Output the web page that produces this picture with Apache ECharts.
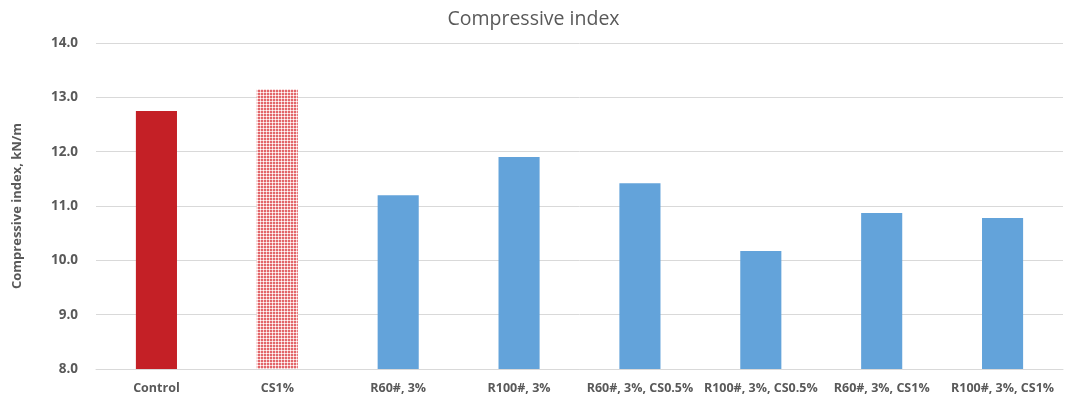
<!DOCTYPE html>
<html>
<head>
<meta charset="utf-8">
<script src="https://cdn.jsdelivr.net/npm/echarts@6/dist/echarts.min.js"></script>
<style>
  html, body { margin: 0; padding: 0; background: #fff; }
  #chart { width: 1067px; height: 396px; }
</style>
</head>
<body>
<div id="chart"></div>
<script>
// Compressive index per mix
const categories = ['Control', 'CS1%', 'R60#, 3%', 'R100#, 3%', 'R60#, 3%, CS0.5%', 'R100#, 3%, CS0.5%', 'R60#, 3%, CS1%', 'R100#, 3%, CS1%'];
const values = [12.75, 13.15, 11.2, 11.9, 11.42, 10.17, 10.87, 10.78];
const yTicks = { min: 8, max: 14, interval: 1 };

// Small checkered fill used for the CS1% bar: red cells on a light grid
function checkerPattern() {
  const c = document.createElement('canvas');
  c.width = 3; c.height = 3;
  const g = c.getContext('2d');
  g.fillStyle = '#f7cfd0';
  g.fillRect(0, 0, 3, 3);
  g.fillStyle = '#e2666a';
  g.fillRect(0, 0, 2, 2);
  g.fillStyle = '#ffffff';
  g.fillRect(2, 2, 1, 1);
  return c;
}

const barColors = [
  '#c42026',
  { image: checkerPattern(), repeat: 'repeat' },
  '#63a3da', '#63a3da', '#63a3da', '#63a3da', '#63a3da', '#63a3da'
];

const chart = echarts.init(document.getElementById('chart'));
chart.setOption({
  animation: false,
  title: {
    text: 'Compressive index',
    left: 'center',
    top: 4,
    textStyle: { fontFamily: 'Open Sans', fontSize: 19.5, fontWeight: 'normal', color: '#595959' }
  },
  grid: { left: 96, right: 4, top: 43, bottom: 27 },
  xAxis: {
    type: 'category',
    data: categories,
    axisLine: { lineStyle: { color: '#d9d9d9' } },
    axisTick: { show: false },
    axisLabel: { fontFamily: 'Open Sans', fontSize: 12.5, fontWeight: 'bold', color: '#595959', margin: 13, interval: 0 }
  },
  yAxis: {
    type: 'value',
    min: yTicks.min,
    max: yTicks.max,
    interval: yTicks.interval,
    name: 'Compressive index, kN/m',
    nameLocation: 'middle',
    nameGap: 72,
    nameTextStyle: { fontFamily: 'Open Sans', fontSize: 13, fontWeight: 'bold', color: '#595959' },
    axisLine: { show: false },
    axisTick: { show: false },
    splitLine: { lineStyle: { color: '#d9d9d9' } },
    axisLabel: {
      fontFamily: 'Open Sans', fontSize: 13.5, fontWeight: 'bold', color: '#595959', margin: 18,
      formatter: v => v.toFixed(1)
    }
  },
  series: [{
    type: 'bar',
    barWidth: '34%',
    data: values.map((v, i) => ({ value: v, itemStyle: { color: barColors[i] } }))
  }]
});
</script>
</body>
</html>
